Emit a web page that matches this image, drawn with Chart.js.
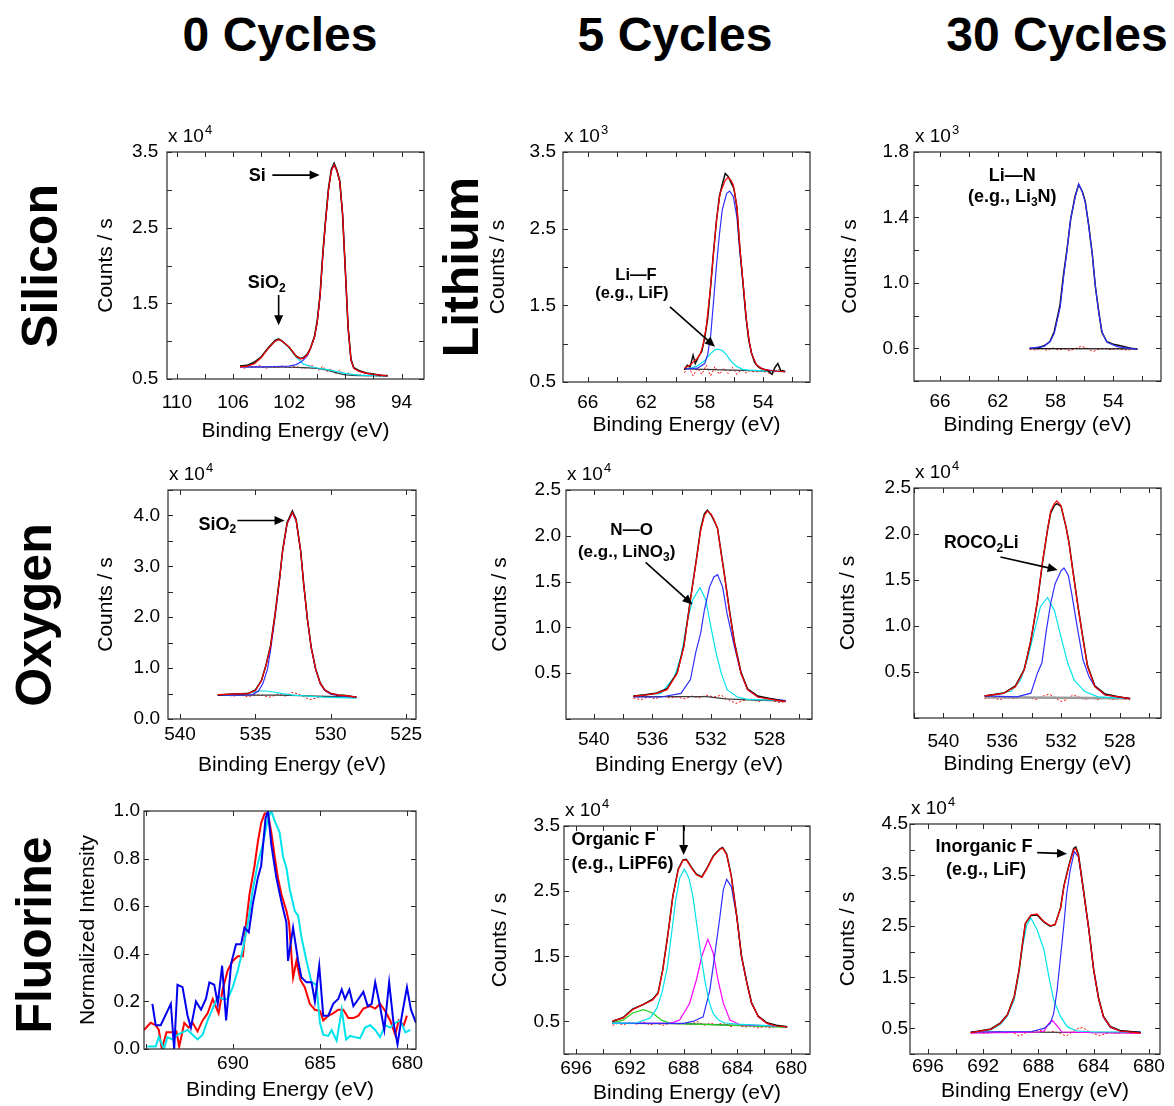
<!DOCTYPE html>
<html>
<head>
<meta charset="utf-8">
<script src="https://cdn.jsdelivr.net/npm/chart.js@4.4.0/dist/chart.umd.min.js"></script>
<style>
  body { margin: 0; background: #fff; width: 1174px; height: 1106px; overflow: hidden; position: relative; font-family: 'Liberation Sans', Arial, sans-serif; }
  canvas { position: absolute; }
  .col { position: absolute; top: 11px; font-weight: bold; font-size: 48px; line-height: 1; white-space: nowrap; transform: translateX(-50%); }
  .row { position: absolute; font-weight: bold; font-size: 50px; line-height: 1; white-space: nowrap; transform: translate(-50%, -50%) rotate(-90deg); }
</style>
</head>
<body>
<div class="col" style="left:280px">0 Cycles</div>
<div class="col" style="left:675px">5 Cycles</div>
<div class="col" style="left:1057px">30 Cycles</div>
<div class="row" style="left:40px; top:266px">Silicon</div>
<div class="row" style="left:461px; top:267px">Lithium</div>
<div class="row" style="left:34px; top:615px">Oxygen</div>
<div class="row" style="left:34px; top:935px">Fluorine</div>

<script>
// ---- Si 2p, 0 cycles (counts x 10^4) ----
const siRaw = [[105.5,0.67],[105,0.68],[104.5,0.72],[104,0.79],[103.5,0.91],[103,1.01],[102.75,1.03],[102.5,1.0],[102,0.92],[101.5,0.8],[101.2,0.77],[101,0.78],[100.7,0.83],[100.5,0.9],[100.2,1.06],[100,1.27],[99.8,1.62],[99.6,2.17],[99.4,2.62],[99.2,3.02],[99,3.27],[98.8,3.35],[98.6,3.26],[98.4,3.12],[98.2,2.68],[98,1.93],[97.8,1.17],[97.6,0.76],[97.4,0.65],[97,0.61],[96.5,0.58],[96,0.565],[95.5,0.55],[95,0.545]];
const siFit = [[105.5,0.66],[105,0.67],[104.5,0.7],[104,0.78],[103.5,0.9],[103,1.0],[102.75,1.02],[102.5,1.0],[102,0.92],[101.5,0.8],[101.2,0.77],[101,0.77],[100.7,0.82],[100.5,0.9],[100.2,1.05],[100,1.25],[99.8,1.6],[99.6,2.15],[99.4,2.6],[99.2,3.0],[99,3.25],[98.8,3.33],[98.6,3.25],[98.4,3.11],[98.2,2.69],[98,1.93],[97.8,1.17],[97.6,0.75],[97.4,0.64],[97,0.6],[96.5,0.575],[96,0.56],[95.5,0.55],[95,0.54]];
const siElem = [[105.5,0.66],[104,0.66],[103,0.665],[102,0.67],[101.5,0.69],[101.2,0.72],[101,0.75],[100.7,0.81],[100.5,0.89],[100.2,1.05],[100,1.25],[99.8,1.6],[99.6,2.15],[99.4,2.6],[99.2,3.0],[99,3.25],[98.8,3.33],[98.6,3.25],[98.4,3.11],[98.2,2.69],[98,1.93],[97.8,1.17],[97.6,0.75],[97.4,0.64],[97,0.6],[96.5,0.575],[96,0.56],[95.5,0.55],[95,0.54]];
const siOxide = [[105.5,0.67],[105,0.68],[104.5,0.71],[104,0.79],[103.5,0.9],[103,1.0],[102.75,1.02],[102.5,1.0],[102,0.91],[101.5,0.79],[101,0.7],[100.5,0.665],[100,0.645],[99.5,0.63],[99,0.615],[98.5,0.595],[98,0.575],[97.5,0.56],[97,0.55],[96,0.545],[95,0.54]];
const siBase = [[105.5,0.66],[102,0.655],[101,0.65],[100,0.64],[99.5,0.625],[99,0.6],[98.5,0.575],[98,0.555],[97.5,0.548],[97,0.545],[95,0.54]];
const siResid = [[105.5,0.66],[105.2,0.64],[104.9,0.67],[104.5,0.65],[104.1,0.68],[103.7,0.64],[103.3,0.66],[102.9,0.65],[102.5,0.67],[102.1,0.645],[101.7,0.665],[101.3,0.655],[100.9,0.64],[100.5,0.69],[100.2,0.66],[99.9,0.62],[99.6,0.67],[99.3,0.6],[99,0.63],[98.7,0.57],[98.4,0.62],[98.1,0.56],[97.8,0.58],[97.4,0.545],[97,0.555],[96.5,0.54],[96,0.55],[95.5,0.535],[95,0.545]];

// ---- Li 1s, 5 cycles (x 10^3) ----
const li5Raw = [[59.4,0.66],[59.2,0.72],[59,0.7],[58.8,0.85],[58.65,0.74],[58.4,0.84],[58.2,0.9],[58,1.08],[57.8,1.33],[57.6,1.74],[57.4,2.2],[57.2,2.6],[57,2.92],[56.8,3.08],[56.6,3.22],[56.4,3.18],[56.2,3.1],[56,3.02],[55.8,2.77],[55.6,2.24],[55.4,1.82],[55.2,1.38],[55,1.06],[54.8,0.88],[54.6,0.76],[54.4,0.71],[54.2,0.68],[54,0.67],[53.7,0.65],[53.4,0.6],[53.2,0.69],[53,0.74],[52.8,0.65],[52.5,0.64]];
const li5Fit = [[59.4,0.68],[59,0.72],[58.8,0.76],[58.5,0.81],[58.3,0.87],[58.1,1.0],[57.9,1.22],[57.65,1.66],[57.4,2.18],[57.2,2.61],[56.95,2.96],[56.6,3.13],[56.4,3.17],[56.2,3.13],[56.05,3.07],[55.8,2.79],[55.6,2.26],[55.35,1.74],[55.15,1.31],[54.95,1.02],[54.8,0.87],[54.45,0.72],[54,0.665],[53.5,0.65],[53,0.64],[52.5,0.635]];
const li5Main = [[59.4,0.67],[58.5,0.68],[58,0.74],[57.8,0.86],[57.6,1.1],[57.4,1.55],[57.2,2.02],[57,2.42],[56.8,2.75],[56.5,2.96],[56.3,2.99],[56.05,2.92],[55.8,2.65],[55.6,2.2],[55.35,1.72],[55.15,1.3],[54.95,1.01],[54.8,0.87],[54.45,0.72],[54,0.665],[53,0.64],[52.5,0.635]];
const li5LiF = [[59.4,0.67],[59,0.68],[58.5,0.71],[58,0.78],[57.6,0.87],[57.3,0.92],[57.1,0.93],[56.8,0.91],[56.5,0.85],[56.2,0.77],[55.8,0.7],[55.4,0.665],[55,0.655],[54,0.645],[52.5,0.635]];
const li5Base = [[59.4,0.67],[56,0.655],[52.5,0.635]];
const li5Resid = [[59.4,0.62],[59.1,0.7],[58.8,0.58],[58.5,0.68],[58.2,0.6],[57.9,0.72],[57.6,0.58],[57.3,0.7],[57,0.6],[56.7,0.68],[56.4,0.61],[56.1,0.69],[55.8,0.6],[55.5,0.66],[55.2,0.62],[54.9,0.65],[54.6,0.63],[54.2,0.64],[53.8,0.63],[53.4,0.6],[53,0.66],[52.5,0.63]];

// ---- Li 1s, 30 cycles (x 10^3) ----
const li30Raw = [[59.8,0.6],[59.3,0.6],[58.8,0.615],[58.4,0.64],[58.1,0.7],[57.7,0.86],[57.45,1.05],[57.2,1.21],[56.95,1.39],[56.65,1.53],[56.4,1.6],[56.15,1.56],[55.95,1.5],[55.7,1.35],[55.45,1.17],[55.25,0.98],[55,0.82],[54.8,0.7],[54.45,0.64],[54,0.625],[53.5,0.615],[53,0.605],[52.6,0.598],[52.34,0.596]];
const li30Main = [[59.8,0.6],[58.8,0.612],[58.36,0.643],[58.08,0.694],[57.67,0.856],[57.44,1.04],[57.2,1.2],[56.97,1.385],[56.63,1.527],[56.4,1.605],[56.16,1.558],[55.93,1.487],[55.7,1.344],[55.47,1.182],[55.24,0.978],[55.01,0.816],[54.77,0.694],[54.43,0.637],[53.73,0.61],[52.69,0.596],[52.34,0.596]];
const li30Base = [[59.8,0.598],[52.34,0.596]];
const li30Resid = [[59.8,0.595],[59.4,0.59],[59,0.6],[58.6,0.588],[58.2,0.602],[57.8,0.59],[57.4,0.598],[57,0.585],[56.6,0.6],[56.2,0.612],[55.8,0.6],[55.4,0.58],[55,0.595],[54.6,0.6],[54.2,0.592],[53.8,0.6],[53.4,0.594],[53,0.588],[52.6,0.598],[52.34,0.594]];

// ---- O 1s, 0 cycles (x 10^4) ----
const o0Raw = [[537.5,0.47],[536.5,0.49],[535.5,0.5],[535,0.57],[534.6,0.76],[534.3,1.06],[534,1.44],[533.7,2.06],[533.4,2.77],[533.2,3.31],[532.9,3.86],[532.55,4.09],[532.3,3.92],[532,3.31],[531.8,2.66],[531.55,1.96],[531.3,1.41],[531,0.98],[530.7,0.71],[530.4,0.57],[530,0.5],[529.5,0.47],[529,0.46],[528.3,0.43]];
const o0Fit = [[537.5,0.48],[536.5,0.49],[535.5,0.5],[535,0.56],[534.6,0.75],[534.3,1.05],[534,1.42],[533.7,2.05],[533.4,2.75],[533.2,3.3],[532.9,3.84],[532.55,4.06],[532.3,3.9],[532,3.3],[531.8,2.65],[531.55,1.95],[531.3,1.4],[531,0.97],[530.7,0.7],[530.4,0.57],[530,0.5],[529.5,0.47],[529,0.46],[528.3,0.43]];
const o0Main = [[537.5,0.47],[536,0.47],[535.2,0.48],[534.8,0.55],[534.5,0.7],[534.2,0.98],[534,1.35],[533.7,2.0],[533.4,2.73],[533.2,3.29],[532.9,3.83],[532.55,4.05],[532.3,3.89],[532,3.29],[531.8,2.64],[531.55,1.94],[531.3,1.39],[531,0.96],[530.7,0.69],[530.4,0.56],[530,0.49],[529.5,0.46],[529,0.45],[528.3,0.43]];
const o0Minor = [[537.5,0.47],[536,0.48],[535.3,0.52],[534.8,0.55],[534.3,0.55],[533.8,0.53],[533.2,0.5],[532.5,0.47],[531.5,0.45],[530.5,0.43],[529.5,0.42],[528.3,0.41]];
const o0Base = [[537.5,0.47],[533.5,0.47],[532,0.46],[531,0.45],[529.5,0.44],[528.3,0.43]];
const o0Resid = [[537.5,0.46],[537,0.48],[536.5,0.45],[536,0.47],[535.5,0.44],[535,0.47],[534.5,0.46],[534,0.43],[533.5,0.49],[533,0.45],[532.6,0.52],[532.2,0.5],[531.8,0.44],[531.4,0.38],[531,0.41],[530.5,0.45],[530,0.42],[529.5,0.44],[529,0.43],[528.3,0.42]];

// ---- O 1s, 5 cycles (x 10^4) ----
const o5Raw = [[537.3,0.25],[536.5,0.265],[535.7,0.285],[535,0.33],[534.3,0.51],[533.85,0.8],[533.4,1.31],[533,1.74],[532.7,2.08],[532.45,2.24],[532.25,2.28],[532,2.23],[531.8,2.17],[531.55,2.08],[531.3,1.81],[531.1,1.6],[530.75,1.2],[530.4,0.84],[529.95,0.51],[529.5,0.33],[528.8,0.25],[527.9,0.22],[526.9,0.19]];
const o5Fit = [[537.3,0.25],[536.5,0.26],[535.7,0.28],[535,0.32],[534.3,0.5],[533.85,0.79],[533.4,1.3],[533,1.73],[532.7,2.06],[532.45,2.22],[532.25,2.27],[532,2.24],[531.8,2.18],[531.55,2.08],[531.3,1.8],[531.1,1.59],[530.75,1.19],[530.4,0.83],[529.95,0.5],[529.5,0.32],[528.8,0.24],[527.9,0.215],[526.9,0.19]];
const o5Low = [[537.3,0.24],[535.4,0.24],[534.05,0.28],[533.4,0.43],[533.05,0.72],[532.7,0.94],[532.45,1.19],[532.1,1.44],[531.8,1.55],[531.55,1.576],[531.2,1.44],[530.9,1.15],[530.4,0.79],[529.95,0.5],[529.5,0.32],[528.8,0.24],[526.9,0.2]];
const o5NO = [[537.3,0.25],[535.4,0.28],[534.5,0.46],[534.05,0.68],[533.6,1.08],[533.25,1.3],[532.75,1.435],[532.35,1.3],[532,1.0],[531.65,0.72],[531.3,0.5],[530.9,0.32],[530.2,0.24],[529.5,0.215],[526.9,0.2]];
const o5Base = [[537.3,0.245],[532.3,0.245],[531,0.22],[529,0.205],[526.9,0.195]];
const o5Resid = [[537.3,0.23],[536.8,0.21],[536.3,0.24],[535.8,0.22],[535.3,0.25],[534.8,0.23],[534.3,0.24],[533.8,0.22],[533.3,0.25],[532.8,0.23],[532.3,0.26],[531.8,0.24],[531.3,0.26],[530.8,0.21],[530.3,0.17],[529.8,0.2],[529.3,0.22],[528.8,0.19],[528.3,0.21],[527.8,0.2],[527.3,0.18],[526.9,0.19]];

// ---- O 1s, 30 cycles (x 10^4) ----
const o30Raw = [[537.2,0.24],[535.9,0.27],[535.1,0.35],[534.5,0.53],[534.05,0.84],[533.6,1.27],[533.25,1.7],[532.9,2.06],[532.7,2.23],[532.45,2.31],[532.28,2.33],[532,2.3],[531.65,2.07],[531.45,1.9],[531.2,1.61],[530.85,1.22],[530.5,0.86],[530.2,0.57],[529.7,0.35],[529,0.26],[528.1,0.23],[527.3,0.21]];
const o30Fit = [[537.2,0.24],[535.9,0.27],[535.1,0.34],[534.5,0.52],[534.05,0.85],[533.6,1.28],[533.25,1.71],[532.9,2.07],[532.7,2.25],[532.45,2.33],[532.28,2.36],[532,2.31],[531.65,2.07],[531.45,1.89],[531.2,1.6],[530.85,1.21],[530.5,0.85],[530.2,0.56],[529.7,0.34],[529,0.25],[528.1,0.23],[527.3,0.21]];
const o30Carbonate = [[537.2,0.24],[535,0.23],[534.05,0.27],[533.6,0.49],[533.3,0.6],[533,0.95],[532.7,1.25],[532.4,1.46],[532,1.6],[531.8,1.63],[531.5,1.55],[531.27,1.35],[530.9,0.99],[530.5,0.63],[530.1,0.45],[529.7,0.34],[529,0.25],[527.3,0.21]];
const o30High = [[537.2,0.24],[535.4,0.29],[534.75,0.41],[534.3,0.63],[533.85,0.92],[533.4,1.21],[532.92,1.31],[532.45,1.17],[532,0.88],[531.55,0.6],[531.1,0.41],[530.4,0.29],[529.5,0.23],[527.3,0.21]];
const o30Base = [[537.2,0.225],[527.3,0.215]];
const o30Resid = [[537.2,0.21],[536.7,0.22],[536.2,0.2],[535.7,0.22],[535.2,0.21],[534.7,0.23],[534.2,0.22],[533.7,0.2],[533.2,0.24],[532.8,0.26],[532.4,0.22],[532,0.18],[531.6,0.2],[531.2,0.25],[530.8,0.23],[530.4,0.2],[530,0.22],[529.5,0.2],[529,0.22],[528.5,0.2],[528,0.21],[527.3,0.2]];

// ---- F 1s, 0 cycles (normalized intensity) ----
const f0Red = [[695.1,0.08],[694.72,0.11],[694.43,0.1],[694.25,0.08],[694.08,0.0],[693.81,0.07],[693.47,0.07],[693.24,0.074],[693.08,0.01],[692.79,0.11],[692.54,0.09],[692.31,0.11],[692.03,0.074],[691.74,0.12],[691.45,0.15],[691.16,0.21],[690.82,0.15],[690.59,0.25],[690.3,0.33],[690.01,0.37],[689.72,0.39],[689.43,0.39],[689.24,0.53],[689.05,0.65],[688.76,0.77],[688.57,0.87],[688.38,0.95],[688.18,0.99],[687.99,0.99],[687.8,0.91],[687.61,0.81],[687.42,0.72],[687.22,0.65],[686.93,0.58],[686.78,0.53],[686.55,0.3],[686.36,0.37],[686.13,0.29],[685.88,0.26],[685.59,0.19],[685.3,0.165],[685.01,0.16],[684.82,0.12],[684.53,0.14],[684.25,0.15],[683.96,0.165],[683.67,0.165],[683.38,0.13],[683.09,0.13],[682.8,0.14],[682.52,0.17],[682.13,0.18],[681.84,0.17],[681.56,0.19],[681.27,0.16],[680.98,0.12],[680.69,0.06],[680.49,0.12],[680.2,0.1],[680.02,0.14]];
const f0Blue = [[694.62,0.19],[694.43,0.1],[694.14,0.1],[693.56,0.19],[693.37,0.0],[693.18,0.27],[692.89,0.26],[692.6,0.14],[692.41,0.09],[692.12,0.2],[691.83,0.165],[691.55,0.21],[691.35,0.28],[691.07,0.27],[690.87,0.19],[690.62,0.35],[690.39,0.12],[690.1,0.36],[689.82,0.44],[689.53,0.44],[689.34,0.51],[689.09,0.49],[688.86,0.61],[688.57,0.72],[688.38,0.77],[688.13,0.97],[687.99,1.0],[687.8,0.86],[687.51,0.72],[687.22,0.62],[686.93,0.53],[686.84,0.37],[686.55,0.51],[686.26,0.37],[686.07,0.3],[685.78,0.28],[685.49,0.28],[685.3,0.2],[685.05,0.35],[684.82,0.14],[684.53,0.14],[684.25,0.19],[683.96,0.21],[683.76,0.25],[683.57,0.21],[683.32,0.25],[683.09,0.18],[682.8,0.21],[682.52,0.24],[682.27,0.18],[682.04,0.19],[681.84,0.28],[681.59,0.19],[681.32,0.08],[681.04,0.28],[680.79,0.11],[680.56,0.02],[680.31,0.14],[680.02,0.26],[679.79,0.165],[679.5,0.11]];
const f0Cyan = [[694.91,0.01],[694.43,0.01],[694.25,0.05],[693.95,0.0],[693.76,0.05],[693.47,0.04],[693.18,0.06],[692.89,0.07],[692.6,0.08],[692.31,0.06],[692.03,0.04],[691.74,0.06],[691.45,0.12],[691.16,0.17],[690.87,0.22],[690.59,0.21],[690.3,0.21],[690.01,0.26],[689.72,0.33],[689.43,0.42],[689.14,0.53],[688.86,0.67],[688.57,0.78],[688.28,0.86],[687.99,0.97],[687.8,1.0],[687.61,0.96],[687.32,0.91],[687.13,0.81],[686.93,0.76],[686.74,0.67],[686.45,0.58],[686.26,0.56],[686.07,0.47],[685.78,0.37],[685.49,0.28],[685.21,0.27],[685.01,0.11],[684.82,0.06],[684.53,0.055],[684.34,0.08],[684.05,0.035],[683.76,0.165],[683.51,0.04],[683.28,0.055],[682.99,0.05],[682.71,0.045],[682.42,0.09],[682.13,0.1],[681.84,0.08],[681.56,0.05],[681.27,0.1],[680.98,0.09],[680.69,0.11],[680.4,0.12],[680.11,0.07],[679.83,0.08]];

// ---- F 1s, 5 cycles (x 10^4) ----
const f5Raw = [[693.3,0.5],[692.5,0.56],[691.8,0.69],[691,0.76],[690.3,0.84],[689.9,0.94],[689.55,1.3],[689.15,1.87],[688.8,2.43],[688.4,2.84],[688.05,2.98],[687.8,2.99],[687.4,2.86],[687.05,2.76],[686.65,2.72],[686.3,2.84],[685.8,3.04],[685.3,3.15],[685.1,3.17],[684.8,3.07],[684.45,2.73],[684.05,2.12],[683.7,1.51],[683.3,1.1],[682.95,0.79],[682.45,0.58],[681.8,0.48],[681.1,0.44],[680.3,0.42]];
const f5Fit = [[693.3,0.51],[692.5,0.55],[691.8,0.68],[691,0.76],[690.3,0.83],[689.9,0.93],[689.55,1.29],[689.15,1.86],[688.8,2.42],[688.4,2.83],[688.05,2.97],[687.8,2.98],[687.4,2.85],[687.05,2.75],[686.65,2.71],[686.3,2.83],[685.8,3.03],[685.3,3.14],[685.1,3.16],[684.8,3.06],[684.45,2.72],[684.05,2.11],[683.7,1.5],[683.3,1.09],[682.95,0.78],[682.45,0.575],[681.8,0.47],[681.1,0.43],[680.3,0.415]];
const f5Organic = [[693.3,0.47],[691.5,0.48],[690.5,0.55],[690,0.7],[689.6,0.95],[689.2,1.35],[688.9,1.85],[688.6,2.35],[688.3,2.7],[687.95,2.84],[687.6,2.7],[687.3,2.4],[687,1.95],[686.7,1.5],[686.4,1.1],[686.1,0.8],[685.8,0.62],[685.4,0.52],[685,0.48],[684,0.46],[680.3,0.42]];
const f5Mid = [[693.3,0.47],[689,0.47],[688.3,0.52],[687.55,0.78],[687.05,1.14],[686.65,1.5],[686.2,1.76],[685.8,1.55],[685.45,1.14],[685.05,0.78],[684.55,0.52],[683.8,0.45],[680.3,0.42]];
const f5LiF = [[693.3,0.47],[688,0.47],[687.3,0.5],[686.55,0.57],[686.05,0.98],[685.7,1.5],[685.3,2.11],[685.05,2.52],[684.8,2.68],[684.45,2.57],[684.05,2.11],[683.7,1.5],[683.3,1.09],[682.95,0.78],[682.45,0.575],[681.8,0.47],[681.1,0.43],[680.3,0.415]];
const f5High = [[693.3,0.48],[692.5,0.52],[691.8,0.63],[691,0.68],[690.3,0.63],[689.65,0.52],[689,0.47],[686,0.45],[683,0.43],[680.3,0.41]];
const f5Base = [[693.3,0.47],[688,0.465],[684,0.44],[680.3,0.42]];
const f5Resid = [[693.3,0.44],[692.9,0.47],[692.5,0.45],[692,0.48],[691.5,0.46],[691,0.49],[690.5,0.45],[690,0.47],[689.5,0.44],[689,0.48],[688.5,0.46],[688,0.47],[687.5,0.45],[687,0.5],[686.5,0.44],[686,0.47],[685.5,0.45],[685,0.48],[684.5,0.42],[684,0.45],[683.5,0.41],[683,0.43],[682.5,0.4],[682,0.42],[681.5,0.4],[681,0.43],[680.3,0.4]];

// ---- F 1s, 30 cycles (x 10^4) ----
const f30Raw = [[692.9,0.42],[691.45,0.49],[690.75,0.61],[690.25,0.77],[689.75,1.13],[689.4,1.65],[689.15,2.17],[688.95,2.55],[688.55,2.71],[688.1,2.72],[687.6,2.58],[687.15,2.5],[686.8,2.53],[686.4,2.86],[686.15,3.3],[685.8,3.69],[685.45,4.02],[685.3,4.05],[685.1,3.9],[684.75,3.23],[684.35,2.44],[684,1.65],[683.65,1.1],[683.3,0.74],[682.8,0.54],[682.1,0.46],[680.6,0.42]];
const f30Fit = [[692.9,0.42],[691.45,0.48],[690.75,0.6],[690.25,0.76],[689.75,1.12],[689.4,1.64],[689.15,2.17],[688.95,2.56],[688.55,2.72],[688.1,2.74],[687.6,2.59],[687.15,2.51],[686.8,2.53],[686.4,2.85],[686.15,3.28],[685.8,3.67],[685.45,4.0],[685.3,4.02],[685.1,3.87],[684.75,3.21],[684.35,2.43],[684,1.64],[683.65,1.09],[683.3,0.73],[682.8,0.53],[682.1,0.45],[680.6,0.41]];
const f30Organic = [[692.9,0.42],[691.45,0.47],[690.75,0.58],[690.25,0.74],[689.75,1.07],[689.4,1.6],[689.15,2.1],[688.85,2.52],[688.55,2.66],[688.1,2.43],[687.6,2.04],[687.25,1.52],[686.9,1.06],[686.4,0.73],[685.9,0.53],[685.2,0.45],[684,0.43],[680.6,0.43]];
const f30LiF = [[692.9,0.43],[688.5,0.44],[687.6,0.5],[687.15,0.6],[686.9,0.79],[686.65,1.25],[686.4,1.9],[686.15,2.56],[685.95,3.15],[685.7,3.6],[685.4,3.96],[685.1,3.85],[684.75,3.2],[684.35,2.42],[684,1.63],[683.65,1.08],[683.3,0.72],[682.8,0.52],[682.1,0.45],[680.6,0.43]];
const f30Mid = [[692.9,0.41],[688,0.43],[687.6,0.45],[687.25,0.6],[687,0.66],[686.65,0.55],[686.3,0.43],[684,0.42],[680.6,0.41]];
const f30Base = [[692.9,0.43],[680.6,0.42]];
const f30Resid = [[692.9,0.41],[692.4,0.43],[691.9,0.4],[691.4,0.42],[690.9,0.44],[690.4,0.41],[689.9,0.43],[689.4,0.35],[688.9,0.42],[688.4,0.44],[687.9,0.46],[687.4,0.42],[686.9,0.44],[686.4,0.4],[686,0.35],[685.6,0.42],[685.2,0.49],[684.8,0.52],[684.4,0.45],[684,0.4],[683.6,0.36],[683.2,0.39],[682.8,0.42],[682.3,0.4],[681.8,0.43],[681.3,0.4],[680.6,0.41]];

// tick labels shown on each axis
const siXLabels = [110, 106, 102, 98, 94];
const liXLabels = [66, 62, 58, 54];
const o0XLabels = [540, 535, 530, 525];
const oXLabels = [540, 536, 532, 528];
const f0XLabels = [690, 685, 680];
const fXLabels = [696, 692, 688, 684, 680];
const halfYLabels35 = [0.5, 1.5, 2.5, 3.5];
const li30YLabels = [0.6, 1.0, 1.4, 1.8];
const o0YLabels = [0, 1, 2, 3, 4];
const oYLabels = [0.5, 1.0, 1.5, 2.0, 2.5];
const f0YLabels = [0, 0.2, 0.4, 0.6, 0.8, 1.0];
const f30YLabels = [0.5, 1.5, 2.5, 3.5, 4.5];

const FONT = "'Liberation Sans', Arial, sans-serif";
const RED = '#ff0000', BLUE = '#2f2fff', CYAN = '#00e3ec', BLACK = '#111111';
const MAGENTA = '#ff00ff', GREEN = '#1fd41f', GREY = '#3c3c3c';

Chart.defaults.font.family = FONT;
Chart.defaults.color = '#000';

function curve(points, color, width, dash) {
  return {
    data: points.map(p => ({ x: p[0], y: p[1] })),
    borderColor: color,
    borderWidth: width || 1.2,
    borderDash: dash || [],
    pointRadius: 0,
    fill: false,
    tension: 0
  };
}
const resid = pts => curve(pts, RED, 1, [2, 2]);

// box + inward ticks on all four sides, exponent label, notes and arrows
const decor = {
  id: 'decor',
  afterDraw(chart, args, opts) {
    const { ctx, chartArea: a, scales: { x, y } } = chart;
    ctx.save();
    ctx.strokeStyle = '#2a2a2a';
    ctx.lineWidth = 1.2;
    ctx.strokeRect(a.left, a.top, a.right - a.left, a.bottom - a.top);
    ctx.lineWidth = 1;
    ctx.beginPath();
    x.ticks.forEach(t => {
      const px = Math.round(x.getPixelForValue(t.value)) + 0.5;
      ctx.moveTo(px, a.bottom); ctx.lineTo(px, a.bottom - 5);
      ctx.moveTo(px, a.top); ctx.lineTo(px, a.top + 5);
    });
    y.ticks.forEach(t => {
      const py = Math.round(y.getPixelForValue(t.value)) + 0.5;
      ctx.moveTo(a.left, py); ctx.lineTo(a.left + 5, py);
      ctx.moveTo(a.right, py); ctx.lineTo(a.right - 5, py);
    });
    ctx.stroke();

    ctx.fillStyle = '#000';
    ctx.textAlign = 'left';
    if (opts.exp) {
      ctx.textBaseline = 'alphabetic';
      ctx.font = '19px ' + FONT;
      const bx = a.left + 1, by = a.top - 10;
      ctx.fillText('x 10', bx, by);
      const w = ctx.measureText('x 10').width;
      ctx.font = '13px ' + FONT;
      ctx.fillText(opts.exp, bx + w + 1, by - 8);
    }

    (opts.notes || []).forEach(n => {
      const size = n.size || 18;
      const segs = n.parts.map(([t, kind]) => ({
        t, sub: kind === 'sub',
        font: 'bold ' + (kind === 'sub' ? Math.round(size * 0.68) : size) + 'px ' + FONT
      }));
      let total = 0;
      segs.forEach(s => { ctx.font = s.font; s.w = ctx.measureText(s.t).width; total += s.w; });
      let cx = x.getPixelForValue(n.x);
      if (n.align !== 'left') cx -= total / 2;
      const cy = y.getPixelForValue(n.y);
      ctx.textBaseline = 'middle';
      segs.forEach(s => {
        ctx.font = s.font;
        ctx.fillText(s.t, cx, s.sub ? cy + size * 0.3 : cy);
        cx += s.w;
      });
    });

    ctx.strokeStyle = '#000';
    ctx.lineWidth = 1.6;
    (opts.arrows || []).forEach(([from, to]) => {
      const x1 = x.getPixelForValue(from[0]), y1 = y.getPixelForValue(from[1]);
      const x2 = x.getPixelForValue(to[0]), y2 = y.getPixelForValue(to[1]);
      const ang = Math.atan2(y2 - y1, x2 - x1);
      const c = Math.cos(ang), s = Math.sin(ang);
      const head = 10, half = 4.5;
      ctx.beginPath();
      ctx.moveTo(x1, y1);
      ctx.lineTo(x2 - head * 0.8 * c, y2 - head * 0.8 * s);
      ctx.stroke();
      ctx.beginPath();
      ctx.moveTo(x2, y2);
      ctx.lineTo(x2 - head * c + half * s, y2 - head * s - half * c);
      ctx.lineTo(x2 - head * c - half * s, y2 - head * s + half * c);
      ctx.closePath();
      ctx.fill();
    });
    ctx.restore();
  }
};

const panels = [
  { box: [167, 152, 424, 379], x: [92.4, 110.7, 2], y: [0.5, 3.5, 0.5], xl: siXLabels, yl: halfYLabels35, dec: 1,
    exp: '4', xLab: 23.5, xTitle: 52.5, yGap: 8.7, yTitle: 60.3,
    lines: [resid(siResid), curve(siBase, GREY), curve(siOxide, CYAN), curve(siElem, BLUE), curve(siRaw, BLACK, 1.6), curve(siFit, RED)],
    notes: [{ x: 104.27, y: 3.18, parts: [['Si']] }, { x: 103.6, y: 1.77, parts: [['SiO'], ['2', 'sub']] }],
    arrows: [[[103.2, 3.195], [99.83, 3.195]], [[102.75, 1.61], [102.75, 1.21]]] },
  { box: [563, 152, 810, 382], x: [50.8, 67.7, 2], y: [0.5, 3.5, 0.5], xl: liXLabels, yl: halfYLabels35, dec: 1,
    exp: '3', xLab: 20.7, xTitle: 43, yGap: 7, yTitle: 65,
    lines: [resid(li5Resid), curve(li5Base, GREY), curve(li5LiF, CYAN), curve(li5Main, BLUE), curve(li5Raw, BLACK, 1.5), curve(li5Fit, RED)],
    notes: [{ x: 62.71, y: 1.895, size: 16.5, parts: [['Li\u2014F']] }, { x: 62.99, y: 1.66, size: 16.5, parts: [['(e.g., LiF)']] }],
    arrows: [[[60.38, 1.48], [57.3, 0.96]]] },
  { box: [914, 152, 1161, 381], x: [50.7, 67.8, 2], y: [0.4, 1.8, 0.2], xl: liXLabels, yl: li30YLabels, dec: 1,
    exp: '3', xLab: 20.7, xTitle: 44, yGap: 5, yTitle: 64,
    lines: [resid(li30Resid), curve(li30Base, BLACK), curve(li30Raw, BLACK, 1.5), curve(li30Main, BLUE)],
    notes: [{ x: 61.0, y: 1.654, parts: [['Li\u2014N']] }, { x: 61.0, y: 1.526, parts: [['(e.g., Li'], ['3', 'sub'], ['N)']] }],
    arrows: [] },
  { box: [168, 490, 416, 719], x: [524.35, 540.8, 5], y: [0, 4.5, 0.5], xl: o0XLabels, yl: o0YLabels, dec: 1,
    exp: '4', xLab: 16, xTitle: 46, yGap: 8, yTitle: 61.3,
    lines: [resid(o0Resid), curve(o0Base, GREY), curve(o0Minor, CYAN), curve(o0Main, BLUE), curve(o0Raw, BLACK, 1.5), curve(o0Fit, RED)],
    notes: [{ x: 537.53, y: 3.82, parts: [['SiO'], ['2', 'sub']] }],
    arrows: [[[536.2, 3.9], [533.07, 3.9]]] },
  { box: [566, 490, 812, 719], x: [525.1, 541.9, 2], y: [0, 2.5, 0.5], xl: oXLabels, yl: oYLabels, dec: 1,
    exp: '4', xLab: 21, xTitle: 46, yGap: 5, yTitle: 66,
    lines: [resid(o5Resid), curve(o5Base, GREY), curve(o5NO, CYAN), curve(o5Low, BLUE), curve(o5Raw, BLACK, 1.5), curve(o5Fit, RED)],
    notes: [{ x: 537.42, y: 2.06, size: 17, parts: [['N\u2014O']] }, { x: 537.76, y: 1.82, size: 17, parts: [['(e.g., LiNO'], ['3', 'sub'], [')']] }],
    arrows: [[[536.46, 1.71], [533.26, 1.25]]] },
  { box: [914, 488, 1161, 718], x: [525.2, 542.0, 2], y: [0, 2.5, 0.5], xl: oXLabels, yl: oYLabels, dec: 1,
    exp: '4', xLab: 23.4, xTitle: 46.7, yGap: 3, yTitle: 65.7,
    lines: [resid(o30Resid), curve(o30Base, '#9a9a9a', 2.5), curve(o30High, CYAN), curve(o30Carbonate, BLUE), curve(o30Raw, BLACK, 1.5), curve(o30Fit, RED)],
    notes: [{ x: 537.42, y: 1.895, size: 17.5, parts: [['ROCO'], ['2', 'sub'], ['Li']] }],
    arrows: [[[536.12, 1.75], [532.23, 1.61]]] },
  { box: [144, 811, 416, 1049], x: [679.5, 695.1, 5], y: [0, 1, 0.2], xl: f0XLabels, yl: f0YLabels, dec: 1,
    exp: null, xLab: 14.3, xTitle: 41, yGap: 4, yTitle: 56, yText: 'Normalized Intensity',
    lines: [curve(f0Red, RED, 2), curve(f0Cyan, CYAN, 2), curve(f0Blue, '#0000ee', 2)],
    notes: [], arrows: [] },
  { box: [564, 826, 810, 1054], x: [678.6, 696.9, 2], y: [0, 3.5, 0.5], xl: fXLabels, yl: halfYLabels35, dec: 1,
    exp: '4', xLab: 14.3, xTitle: 39.3, yGap: 4, yTitle: 64,
    lines: [resid(f5Resid), curve(f5Base, GREY), curve(f5High, GREEN), curve(f5Mid, MAGENTA), curve(f5LiF, BLUE), curve(f5Organic, CYAN), curve(f5Raw, BLACK, 1.5), curve(f5Fit, RED)],
    notes: [{ x: 696.35, y: 3.285, align: 'left', parts: [['Organic F']] }, { x: 696.35, y: 2.917, align: 'left', parts: [['(e.g., LiPF6)']] }],
    arrows: [[[688.0, 3.515], [688.0, 3.055]]] },
  { box: [910, 824, 1160, 1054], x: [679.2, 697.3, 2], y: [0, 4.5, 0.5], xl: fXLabels, yl: f30YLabels, dec: 1,
    exp: '4', xLab: 12.7, xTitle: 37.7, yGap: 2, yTitle: 61.7,
    lines: [resid(f30Resid), curve(f30Base, GREY), curve(f30Mid, MAGENTA), curve(f30Organic, CYAN), curve(f30LiF, BLUE), curve(f30Raw, BLACK, 1.5), curve(f30Fit, RED)],
    notes: [{ x: 691.95, y: 4.055, parts: [['Inorganic F']] }, { x: 691.8, y: 3.606, parts: [['(e.g., LiF)']] }],
    arrows: [[[688.09, 3.94], [685.93, 3.92]]] }
];

const PL = 85, PT = 40, PR = 12, PB = 70;
const TICK_FONT = 19, TITLE_FONT = 21;

function labeller(list, dec) {
  return v => list.some(l => Math.abs(l - v) < 1e-6) ? (dec === 0 ? String(Math.round(v)) : Number(v).toFixed(dec)) : '';
}

panels.forEach(p => {
  const [L, T, R, B] = p.box;
  const canvas = document.createElement('canvas');
  canvas.width = R - L + PL + PR;
  canvas.height = B - T + PT + PB;
  canvas.style.left = (L - PL) + 'px';
  canvas.style.top = (T - PT) + 'px';
  document.body.appendChild(canvas);

  const titleLH = TITLE_FONT * 1.2, tickLH = TICK_FONT * 1.2;
  const datasets = p.lines.map((d, i) => Object.assign(d, { order: -i }));

  new Chart(canvas, {
    type: 'line',
    data: { datasets },
    options: {
      responsive: false,
      animation: false,
      devicePixelRatio: 1,
      layout: { padding: { left: 0, top: PT, right: PR, bottom: 0 } },
      plugins: {
        legend: { display: false },
        tooltip: { enabled: false },
        decor: { exp: p.exp, notes: p.notes, arrows: p.arrows }
      },
      scales: {
        x: {
          type: 'linear', reverse: true, min: p.x[0], max: p.x[1],
          grid: { display: false, drawTicks: false, tickLength: 0 },
          border: { display: false },
          ticks: {
            stepSize: p.x[2], includeBounds: false, autoSkip: false, maxRotation: 0, maxTicksLimit: 100,
            padding: p.xLab - tickLH / 2, font: { size: TICK_FONT },
            callback: labeller(p.xl, 0)
          },
          title: { display: true, text: 'Binding Energy (eV)', font: { size: TITLE_FONT },
                   padding: { top: 0, bottom: PB - p.xTitle - titleLH / 2 } },
          afterFit: s => { s.height = PB; }
        },
        y: {
          type: 'linear', min: p.y[0], max: p.y[1],
          grid: { display: false, drawTicks: false, tickLength: 0 },
          border: { display: false },
          ticks: {
            stepSize: p.y[2], includeBounds: false, autoSkip: false, maxTicksLimit: 100,
            padding: p.yGap, font: { size: TICK_FONT },
            callback: labeller(p.yl, p.dec)
          },
          title: { display: true, text: p.yText || 'Counts / s', font: { size: TITLE_FONT },
                   padding: { top: PL - p.yTitle - titleLH / 2, bottom: 0 } },
          afterFit: s => { s.width = PL; }
        }
      }
    },
    plugins: [decor]
  });
});
</script>
</body>
</html>
